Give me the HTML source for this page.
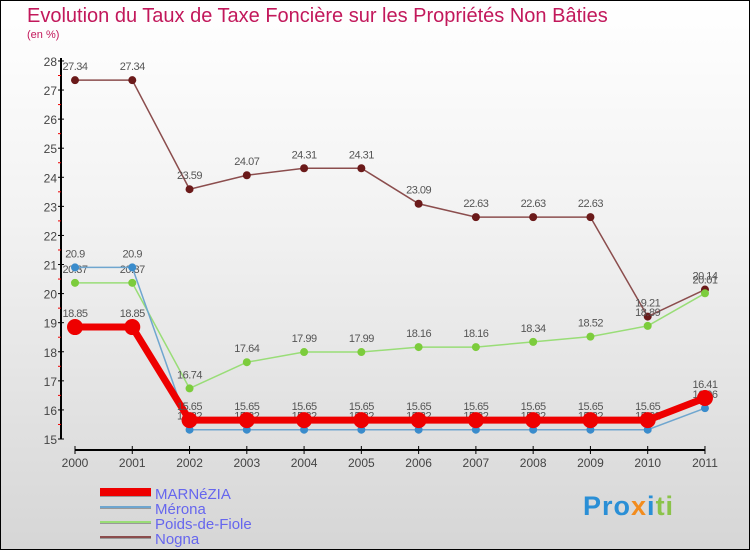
<!DOCTYPE html>
<html><head><meta charset="utf-8"><style>
body{margin:0}
#wrap{position:relative;width:748px;height:548px;border:1px solid #000;background:linear-gradient(#fff,#f2f2f2 40%,#d6d6d6);font-family:"Liberation Sans",sans-serif;overflow:hidden}
.t{position:absolute;color:#c2185b}
</style></head><body>
<div id="wrap">
<div class="t" style="left:26px;top:4px;font-size:20px">Evolution du Taux de Taxe Foncière sur les Propriétés Non Bâties</div>
<div class="t" style="left:26px;top:28px;font-size:11px">(en %)</div>
<svg id="svg" width="750" height="550" style="position:absolute;left:-1px;top:-1px"></svg>
<div style="position:absolute;left:582px;top:490px;font-size:27px;font-weight:bold;letter-spacing:1px"><span style="color:#2a8fd6">Pro</span><span style="color:#f28c1e">x</span><span style="color:#2a8fd6">i</span><span style="color:#8bc34a">ti</span></div>
</div>
<script>
const years=["2000","2001","2002","2003","2004","2005","2006","2007","2008","2009","2010","2011"];
const marnezia=[18.85,18.85,15.65,15.65,15.65,15.65,15.65,15.65,15.65,15.65,15.65,16.41];
const merona=[20.9,20.9,15.32,15.32,15.32,15.32,15.32,15.32,15.32,15.32,15.32,16.06];
const poids=[20.37,20.37,16.74,17.64,17.99,17.99,18.16,18.16,18.34,18.52,18.89,20.01];
const nogna=[27.34,27.34,23.59,24.07,24.31,24.31,23.09,22.63,22.63,22.63,19.21,20.14];
const yTicks=[15,16,17,18,19,20,21,22,23,24,25,26,27,28];
const NS="http://www.w3.org/2000/svg";
const svg=document.getElementById('svg');
const x=i=>75+i*57.27;
const y=v=>439-(v-15)*29.08;
function mk(t,a,p){const e=document.createElementNS(NS,t);for(const k in a)e.setAttribute(k,a[k]);(p||svg).appendChild(e);return e;}
let e;
e=mk('line',{x1:61,y1:58,x2:61,y2:439,stroke:'#000','stroke-width':2});


e=mk('line',{x1:75,y1:450,x2:705,y2:450,stroke:'#000','stroke-width':2});


yTicks.forEach((v,i)=>{
 mk('line',{x1:58,y1:y(v),x2:64,y2:y(v),stroke:'#000'});
 if(i<yTicks.length-1)mk('line',{x1:58,y1:y(v+0.5),x2:61,y2:y(v+0.5),stroke:'#e00'});
 e=mk('text',{x:57,y:y(v)+5,'text-anchor':'end','font-size':12,fill:'#444','font-family':'Liberation Sans'});
 e.textContent=v;
 
 
});
years.forEach((yr,i)=>{
 mk('line',{x1:x(i),y1:446,x2:x(i),y2:454,stroke:'#000'});
 e=mk('text',{x:x(i),y:467,'text-anchor':'middle','font-size':12,fill:'#444','font-family':'Liberation Sans'});
 e.textContent=yr;
 
 
});
function series(d,col,dot,w,r,name,dy){
 const g=mk('g',{});
 
 
 mk('polyline',{points:d.map((v,i)=>x(i)+','+y(v)).join(' '),fill:'none',stroke:col,'stroke-width':w},g);
 d.forEach((v,i)=>{
  const c=mk('circle',{cx:x(i),cy:y(v),r:r,fill:dot},g);
  
  
  const t=mk('text',{x:x(i),y:y(v)+dy,'text-anchor':'middle','font-size':11,fill:'#555','font-family':'Liberation Sans','letter-spacing':'-0.5'},g);
  t.textContent=v;
  
  
 });
}
series(nogna,'#8b4d4d','#6b1a1a',1.5,4,'nogna',-10);
series(poids,'#99dd77','#7ccc3c',1.5,4,'poids-de-fiole',-10);
series(merona,'#6fa6cf','#3a8ccc',1.5,4,'merona',-10);
series(marnezia,'#ee0000','#ee0000',7,8,'marnezia',-10);
const legend=[["MARNéZIA","#ee0000",8],["Mérona","#6fa6cf",2],["Poids-de-Fiole","#99dd77",2],["Nogna","#8b4d4d",2]];
legend.forEach((l,i)=>{
 const ly=492+i*15;
 mk('line',{x1:100,y1:ly+1,x2:151,y2:ly+1,stroke:'#999','stroke-width':l[2]});
 e=mk('line',{x1:100,y1:ly,x2:151,y2:ly,stroke:l[1],'stroke-width':l[2]});
 
 
 e=mk('text',{x:155,y:ly+7,'font-size':15,fill:'#6666ee','font-family':'Liberation Sans'});
 e.textContent=l[0];
 
 
});
</script>
</body></html>
